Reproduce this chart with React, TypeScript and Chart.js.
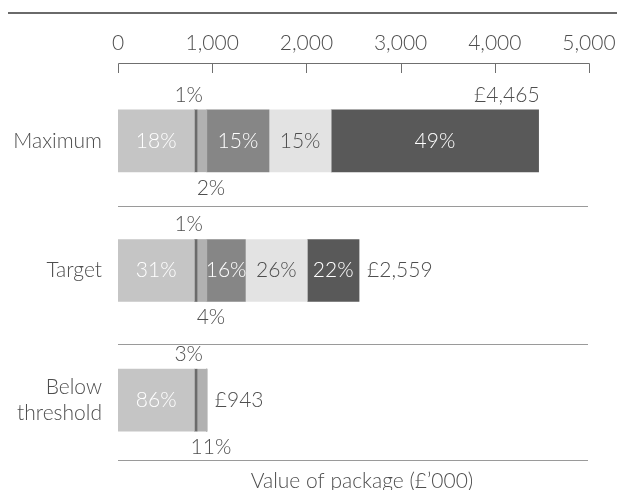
import React, { useEffect, useRef } from "react";
import { Chart, registerables } from "chart.js";

Chart.register(...registerables);

// ---- Data (values in £'000) ----
const categories: (string | string[])[] = ["Maximum", "Target", ["Below", "threshold"]];
const salary = [811, 811, 811];
const pension = [28, 28, 28];
const benefits = [104, 104, 104];
const annualBonus = [660, 409, 0];
const deferredBonus = [660, 658, 0];
const ltip = [2202, 549, 0];

const salaryPct = ["18%", "31%", "86%"];
const pensionPct = ["1%", "1%", "3%"];
const benefitsPct = ["2%", "4%", "11%"];
const annualBonusPct = ["15%", "16%", ""];
const deferredBonusPct = ["15%", "26%", ""];
const ltipPct = ["49%", "22%", ""];
const totalLabels = ["£4,465", "£2,559", "£943"];

const xTicks = [0, 1000, 2000, 3000, 4000, 5000];
const axisTitle = "Value of package (£’000)";

const FONT = "Lato, 'Open Sans', sans-serif";
const WEIGHT = 300;
const SIZE = 21;
const TEXT = "#4e4e4e";

type LabelPos = "inside" | "above" | "below";

const seriesDefs = [
  { label: "Salary", data: salary, pct: salaryPct, color: "#c5c5c5", text: "#ffffff", pos: "inside" as LabelPos },
  { label: "Pension", data: pension, pct: pensionPct, color: "#6b6b6b", text: TEXT, pos: "above" as LabelPos },
  { label: "Benefits", data: benefits, pct: benefitsPct, color: "#b1b1b1", text: TEXT, pos: "below" as LabelPos },
  { label: "Annual bonus (cash)", data: annualBonus, pct: annualBonusPct, color: "#868686", text: "#ffffff", pos: "inside" as LabelPos },
  { label: "Annual bonus (deferred)", data: deferredBonus, pct: deferredBonusPct, color: "#e3e3e3", text: TEXT, pos: "inside" as LabelPos },
  { label: "LTIP", data: ltip, pct: ltipPct, color: "#595959", text: "#ffffff", pos: "inside" as LabelPos },
];

const decorPlugin = {
  id: "decor",
  beforeDraw(chart: any) {
    const ctx = chart.ctx;
    const x = chart.scales.x;
    ctx.save();
    // top rule
    ctx.fillStyle = "#6a6a6a";
    ctx.fillRect(8, 12, chart.width - 8, 2);
    // axis line with downward ticks
    ctx.strokeStyle = "#6f6f6f";
    ctx.lineWidth = 1;
    const axisY = 63.5;
    ctx.beginPath();
    ctx.moveTo(Math.round(x.getPixelForValue(0)) + 0.5, axisY);
    ctx.lineTo(Math.round(x.getPixelForValue(5000)) + 0.5, axisY);
    xTicks.forEach((t) => {
      const px = Math.round(x.getPixelForValue(t)) + 0.5;
      ctx.moveTo(px, axisY);
      ctx.lineTo(px, 73);
    });
    ctx.stroke();
    // separators
    const y = chart.scales.y;
    ctx.strokeStyle = "#9a9a9a";
    [0.5, 1.57, 2.465].forEach((v) => {
      const py = Math.round(y.getPixelForValue(v)) + 0.5;
      ctx.beginPath();
      ctx.moveTo(x.getPixelForValue(0), py);
      ctx.lineTo(x.getPixelForValue(5000) - 1, py);
      ctx.stroke();
    });
    // axis title
    ctx.fillStyle = TEXT;
    ctx.font = `${WEIGHT} ${SIZE}px ${FONT}`;
    ctx.textAlign = "center";
    ctx.textBaseline = "alphabetic";
    ctx.fillText(axisTitle, 362, 488);
    ctx.restore();
  },
  afterDatasetsDraw(chart: any) {
    const ctx = chart.ctx;
    ctx.save();
    ctx.font = `${WEIGHT} ${SIZE}px ${FONT}`;
    ctx.textBaseline = "middle";
    seriesDefs.forEach((s, di) => {
      const meta = chart.getDatasetMeta(di);
      meta.data.forEach((bar: any, i: number) => {
        const txt = s.pct[i];
        if (!txt || !s.data[i]) return;
        const { x, y, base, height } = bar.getProps(["x", "y", "base", "height"], true);
        const cx = (x + base) / 2;
        ctx.fillStyle = s.text;
        ctx.textAlign = "center";
        if (s.pos === "inside") {
          ctx.fillText(txt, cx, y);
        } else if (s.pos === "above") {
          ctx.fillText(txt, cx - 7, y - height / 2 - 15);
        } else {
          ctx.fillText(txt, cx + 9, y + height / 2 + 16);
        }
      });
    });
    // totals
    const right = chart.chartArea.right;
    categories.forEach((_, i) => {
      let end = 0;
      let yc = 0;
      let h = 0;
      seriesDefs.forEach((s, di) => {
        const bar: any = chart.getDatasetMeta(di).data[i];
        const p = bar.getProps(["x", "y", "height"], true);
        if (s.data[i] > 0) end = Math.max(end, p.x);
        yc = p.y;
        h = p.height;
      });
      const txt = totalLabels[i];
      const w = ctx.measureText(txt).width;
      ctx.fillStyle = TEXT;
      if (end + 8 + w > right) {
        ctx.textAlign = "right";
        ctx.fillText(txt, end + 1, yc - h / 2 - 15);
      } else {
        ctx.textAlign = "left";
        ctx.fillText(txt, end + 8, yc);
      }
    });
    ctx.restore();
  },
};

export default function App() {
  const ref = useRef<HTMLCanvasElement | null>(null);
  useEffect(() => {
    if (!ref.current) return;
    const chart = new Chart(ref.current, {
      type: "bar",
      data: {
        labels: categories as any,
        datasets: seriesDefs.map((s) => ({
          label: s.label,
          data: s.data,
          backgroundColor: s.color,
          borderWidth: 0,
          barThickness: 62,
        })),
      },
      options: {
        indexAxis: "y",
        animation: false,
        responsive: false,
        maintainAspectRatio: false,
        layout: { padding: { left: 0, right: 28, top: 0, bottom: 25 } },
        plugins: { legend: { display: false }, tooltip: { enabled: false }, title: { display: false } },
        scales: {
          x: {
            position: "top",
            stacked: true,
            min: 0,
            max: 5000,
            afterBuildTicks: (scale: any) => {
              scale.ticks = xTicks.map((v) => ({ value: v }));
            },
            afterFit: (scale: any) => {
              scale.height = 76;
              scale.paddingLeft = 0;
              scale.paddingRight = 0;
            },
            grid: { display: false, drawTicks: false },
            border: { display: false },
            ticks: {
              padding: 20,
              color: TEXT,
              font: { family: FONT, size: SIZE, weight: WEIGHT as any },
              maxRotation: 0,
              callback: (v: any) => Number(v).toLocaleString("en-GB"),
            },
          },
          y: {
            stacked: true,
            afterFit: (scale: any) => {
              scale.width = 118;
              scale.paddingTop = 0;
              scale.paddingBottom = 0;
            },
            grid: { display: false, drawTicks: false },
            border: { display: false },
            ticks: {
              padding: 16,
              color: TEXT,
              font: { family: FONT, size: SIZE, lineHeight: 1.27, weight: WEIGHT as any },
            },
          },
        },
      },
      plugins: [decorPlugin],
    });
    return () => chart.destroy();
  }, []);
  return (
    <div style={{ position: "fixed", left: 0, top: 0, width: 617, height: 490, background: "#fff" }}>
      <canvas ref={ref} width={617} height={490} style={{ width: 617, height: 490, display: "block" }} />
    </div>
  );
}
